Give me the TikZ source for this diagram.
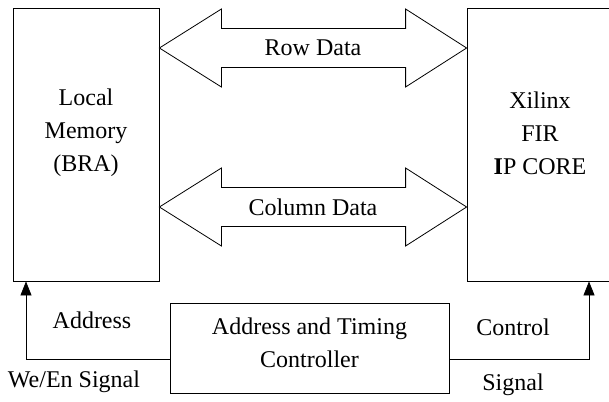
\documentclass[tikz,border=0pt]{standalone}
\usepackage{fontspec}
\setmainfont{Liberation Serif}
\usepackage{tikz}
\usetikzlibrary{calc, positioning, arrows.meta}
\tikzset{
	line width = 1pt,
	font = \rmfamily\fontsize{12}{16.5}\selectfont,
	block/.style={
		draw,
		rectangle,
		inner sep=0pt
	},
	bus/.style={
		draw,
		fill=white,
		line join=miter
	},
	signal/.style={
		-{Triangle[length=7pt, width=5.5pt]}
	},
	txt/.style={
		align=center,
		inner sep=0pt
	}
}

\begin{document}
\begin{tikzpicture}[x=0.5pt, y=-0.5pt]
\useasboundingbox (0,0) rectangle (609,401);

\node[block, minimum width=73pt, minimum height=136.5pt] (mem) at (86,144.5) {};
\node[block, minimum width=73pt, minimum height=136.5pt] (fir) at (540,144.5) {};
\node[block, minimum width=139.5pt, minimum height=45pt] (ctl) at (309.5,348) {};

\node[txt] (memtxt) at (86,133) {Local\\Memory\\(BRA)};
\node[txt] (firtxt) at (540,133) {Xilinx\\FIR\\\textbf{I}P CORE};
\node[txt] (ctltxt) at (309.5,343) {Address and Timing\\Controller};

% ---
% Data buses
% ---
\foreach \n/\y/\t in {row/48/Row Data, col/207/Column Data} {
	\coordinate (\n L) at (mem.east |- 0,\y);
	\coordinate (\n R) at (fir.west |- 0,\y);
	\draw[bus] (\n L) -- ++(62,-39) -- ++(0,19.5) -- ($(\n R)+(-61,-19.5)$) -- ++(0,-19.5)
		-- (\n R) -- ++(-61,39) -- ++(0,-19.5) -- ($(\n L)+(62,19.5)$) -- ++(0,19.5) -- cycle;
	\node[txt] (\n txt) at ($(\n L)!.5!(\n R)$) {\t};
};

% ---
% Control signals
% ---
\draw[signal] ([yshift=-5.5pt]ctl.west) -| (mem.south -| 26,0);
\draw[signal] ([yshift=-5.5pt]ctl.east) -| (fir.south -| 589,0);

\node[txt] (addr) at (92,320) {Address};
\node[txt] (we) at (74,382) {We/En Signal};
\node[txt] (cont) at (513,327) {Control};
\node[txt] (sig) at (513,385) {Signal};
\end{tikzpicture}
\end{document}
